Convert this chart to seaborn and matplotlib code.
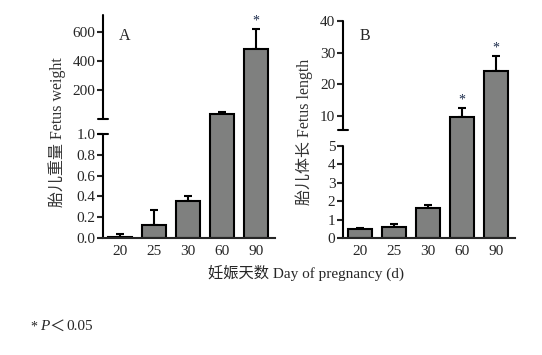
import numpy as np
import matplotlib
matplotlib.use("Agg")
import matplotlib.pyplot as plt
import seaborn as sns

days = ["20", "25", "30", "60", "90"]
weight = [0.013, 0.128, 0.36, 31, 484]
weight_err = [0.03, 0.14, 0.04, 18, 136]
length = [0.49, 0.62, 1.65, 9.7, 24.2]
length_err = [0.04, 0.16, 0.16, 2.8, 4.8]
stars_a = ["", "", "", "", "*"]
stars_b = ["", "", "", "*", "*"]

sns.set_style("ticks")
plt.rcParams["font.family"] = ["Liberation Serif", "Noto Sans CJK SC"]
plt.rcParams["font.size"] = 11
FAM = ["Liberation Serif", "Noto Sans CJK SC"]


def make_scale(b, s1, s2, g):
    # broken axis: bottom part 0..b, then a gap, then the upper part
    def fwd(v):
        v = np.asarray(v, dtype=float)
        return np.where(v <= b, v * s1, b * s1 + g + (v - b) * s2)

    def inv(u):
        u = np.asarray(u, dtype=float)
        top = b + (u - b * s1 - g) / s2
        return np.where(u <= b * s1, u / s1, np.where(u < b * s1 + g, b, top))
    return fwd, inv


def panel(ax, vals, errs, stars, b, s1, s2, g, top_start, top_end, ylim, ticks, labels):
    sns.barplot(x=days, y=vals, color="#7f807f", saturation=1, edgecolor="black",
                linewidth=1.5, width=0.68, ax=ax, zorder=2)
    ax.errorbar(range(len(days)), vals, yerr=[np.zeros(len(errs)), errs], fmt="none",
                ecolor="black", elinewidth=1.5, capsize=3, capthick=1.5, zorder=1)
    ax.set_yscale("function", functions=make_scale(b, s1, s2, g))
    ax.set_ylim(*ylim)
    ax.set_xlim(-0.5, 4.56)
    ax.set_yticks(ticks, labels)
    ax.tick_params(axis="y", direction="out", length=4, width=1.5, pad=1.5, labelsize=11)
    ax.tick_params(axis="x", length=0, pad=5, labelsize=11)
    for s in ["left", "top", "right"]:
        ax.spines[s].set_visible(False)
    ax.spines["bottom"].set_linewidth(1.5)
    tr = ax.get_yaxis_transform()
    ax.plot([0, 0], [0, b], transform=tr, color="black", lw=1.5, clip_on=False)
    ax.plot([0, 0], [top_start, top_end], transform=tr, color="black", lw=1.5, clip_on=False)
    ax.plot([-0.03, 0.03], [top_start, top_start], transform=tr, color="black", lw=1.5, clip_on=False)
    for i, (v, e, st) in enumerate(zip(vals, errs, stars)):
        if st:
            ax.annotate(st, (i, v + e), xytext=(0, 1), textcoords="offset points",
                        ha="center", va="bottom", fontsize=10, color="#1a2a4a")
    ax.set_xlabel("")
    ax.set_ylabel("")


fig = plt.figure(figsize=(5.42, 3.55), dpi=100)
ax_a = fig.add_axes([103 / 542, 117 / 355, 172 / 542, 223 / 355])
ax_b = fig.add_axes([343 / 542, 117 / 355, 172 / 542, 223 / 355])

panel(ax_a, weight, weight_err, stars_a, 1.0, 104, 0.145, 15.15, 1.0 + 1e-6, 717, (0, 717),
      [0, 0.2, 0.4, 0.6, 0.8, 1.0, 200, 400, 600],
      ["0.0", "0.2", "0.4", "0.6", "0.8", "1.0", "200", "400", "600"])
ax_a.plot([-0.03, 0.03], [1.0, 1.0], transform=ax_a.get_yaxis_transform(),
          color="black", lw=1.5, clip_on=False)

panel(ax_b, length, length_err, stars_b, 5.0, 18.4, 3.167, 14.2, 5.5, 40, (0, 41.9),
      [0, 1, 2, 3, 4, 5, 10, 20, 30, 40],
      ["0", "1", "2", "3", "4", "5", "10", "20", "30", "40"])

fig.text(125 / 542, 1 - 36 / 355, "A", ha="center", va="center", fontsize=11.5)
fig.text(365 / 542, 1 - 36 / 355, "B", ha="center", va="center", fontsize=11.5)

fig.text(57 / 542, 1 - 132 / 355, "胎儿重量 Fetus weight", rotation=90,
         ha="center", va="center", fontsize=11.5, family=FAM, color="#333333")
fig.text(304 / 542, 1 - 132 / 355, "胎儿体长 Fetus length", rotation=90,
         ha="center", va="center", fontsize=11.5, family=FAM, color="#333333")
fig.text(306 / 542, 1 - 273 / 355, "妊娠天数 Day of pregnancy (d)",
         ha="center", va="center", fontsize=11, family=FAM)

fig.text(30 / 542, 1 - 327 / 355, "*", ha="left", va="center", fontsize=10)
fig.text(40 / 542, 1 - 327 / 355, "P", ha="left", va="center", fontsize=11, style="italic")
fig.text(49 / 542, 1 - 327 / 355, "＜", ha="left", va="center", fontsize=11, family=FAM)
fig.text(66 / 542, 1 - 327 / 355, "0.05", ha="left", va="center", fontsize=11)

fig.savefig("out.png", dpi=100)
